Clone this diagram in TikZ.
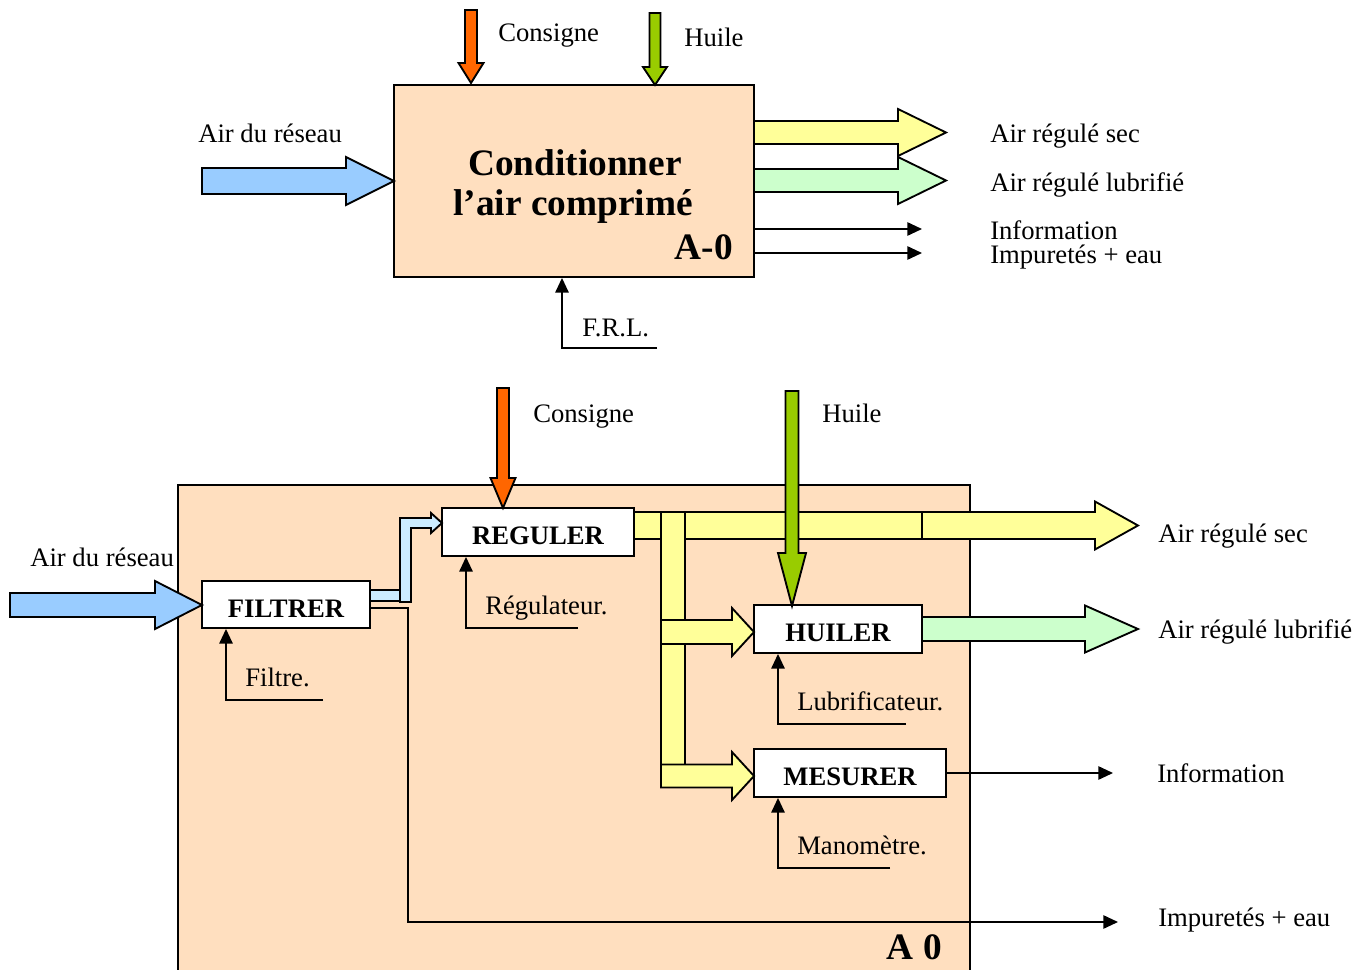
\documentclass[tikz,border=0pt]{standalone}
\usepackage{fontspec}
\setmainfont{Liberation Serif}
\usetikzlibrary{arrows.meta}
\definecolor{peach}{HTML}{FFDFBF}
\definecolor{cblue}{HTML}{99CCFF}
\definecolor{corange}{HTML}{FF6600}
\definecolor{cgreen}{HTML}{99CC00}
\definecolor{cyellow}{HTML}{FFFF99}
\definecolor{clgreen}{HTML}{CCFFCC}
\definecolor{clblue}{HTML}{CCECFF}
\newcommand{\blockR}[7]{%
  \filldraw[fill=#1, blk] (#2,{#5-#6}) -- (#3,{#5-#6}) -- (#3,{#5-#7}) -- (#4,#5) -- (#3,{#5+#7}) -- (#3,{#5+#6}) -- (#2,{#5+#6}) -- cycle;}
\newcommand{\blockD}[7]{%
  \filldraw[fill=#1, blk] ({#2-#6},#3) -- ({#2-#6},#4) -- ({#2-#7},#4) -- (#2,#5) -- ({#2+#7},#4) -- ({#2+#6},#4) -- ({#2+#6},#3) -- cycle;}
\tikzset{
  blk/.style={draw=black, line width=1.4pt, line join=miter},
  box/.style={draw=black, fill=white, line width=1.4pt, inner sep=0pt},
  boxtxt/.style={inner sep=0pt, yshift=-3pt, font=\fontsize{20}{24}\selectfont\bfseries},
  lbl/.style={anchor=base west, inner sep=0pt, font=\fontsize{20}{24}\selectfont},
  conn/.style={draw=black, line width=1.3pt, -{Triangle[length=11pt,width=10pt]}},
}
\begin{document}
\begin{tikzpicture}[x=0.75pt, y=-0.75pt]
\clip (0,0) rectangle (1367,970);
\fill[white] (0,0) rectangle (1367,970);

% ================= TOP (A-0) =================
\node[draw=black, fill=peach, line width=1.4pt, inner sep=0pt,
      minimum width=270pt, minimum height=144pt] (top) at (574,181) {};
\node[inner sep=0pt, font=\fontsize{28}{32}\selectfont\bfseries] (t1) at (575,163) {Conditionner};
\node[inner sep=0pt, font=\fontsize{28}{32}\selectfont\bfseries] (t2) at (573,207) {l’air comprimé};
\node[anchor=east, inner sep=0pt, font=\fontsize{28}{32}\selectfont\bfseries] (t3) at (733,247) {A-0};

\blockD{corange}{471}{10}{63}{83}{6}{12.5}
\blockD{cgreen}{655}{13}{67}{85}{5.5}{12}
\blockR{cblue}{202}{346}{394}{181}{13}{24}
\blockR{cyellow}{754}{898}{946}{132.5}{11.5}{23.5}
\blockR{clgreen}{754}{898}{946}{180.5}{11.5}{23.5}

\coordinate (infoT) at (922,229);
\coordinate (impT) at (922,253);
\draw[conn] (top.east |- infoT) -- (infoT);
\draw[conn] (top.east |- impT) -- (impT);

\coordinate (frlA) at (657,348);
\coordinate (frlB) at (562,348);
\draw[conn] (frlA) -- (frlB) -- (frlB |- top.south);

\node[lbl] (lc1) at (498,42) {Consigne};
\node[lbl] (lh1) at (684,47) {Huile};
\node[lbl] (la1) at (198,143) {Air du réseau};
\node[lbl] (ls1) at (990,143) {Air régulé sec};
\node[lbl] (ll1) at (990,191) {Air régulé lubrifié};
\node[lbl] (li1) at (990,239) {Information};
\node[lbl] (lm1) at (990,263) {Impuretés + eau};
\node[lbl] (lf1) at (582,336) {F.R.L.};

% ================= BOTTOM (A0) =================
\draw[fill=peach, line width=1.4pt] (178,485) rectangle (970,990);
\node[anchor=east, inner sep=0pt, font=\fontsize{28}{32}\selectfont\bfseries] (a0) at (942,947) {A 0};

\node[box, minimum width=144pt, minimum height=36pt] (reg) at (538,532) {};
\node[box, minimum width=126pt, minimum height=35.25pt] (fil) at (286,604.5) {};
\node[box, minimum width=126pt, minimum height=36pt] (hui) at (838,629) {};
\node[box, minimum width=144pt, minimum height=36pt] (mes) at (850,773) {};
\node[boxtxt] (regt) at (reg.center) {REGULER};
\node[boxtxt] (filt) at (fil.center) {FILTRER};
\node[boxtxt] (huit) at (hui.center) {HUILER};
\node[boxtxt] (mest) at (mes.center) {MESURER};

% yellow distribution
\filldraw[fill=cyellow, blk] (634,512) rectangle (922,539);
\filldraw[fill=cyellow, blk] (661,512) rectangle (685,772);
\blockR{cyellow}{661}{732}{754}{632}{12}{24}
\blockR{cyellow}{661}{732}{754}{776}{11.5}{24}
\blockR{cyellow}{922}{1095}{1138}{525.5}{13.5}{24}
\blockR{clgreen}{922}{1085}{1138}{629}{12}{23.5}

% light blue pipe FILTRER -> REGULER
\filldraw[fill=clblue, blk] (370,590) rectangle (400,601);
\filldraw[fill=clblue, blk] (400,602) -- (400,518) -- (431,518) -- (431,513) -- (442,523) -- (431,533) -- (431,528) -- (411,528) -- (411,602) -- cycle;

% inputs
\blockD{cgreen}{792}{391}{553}{606}{6.5}{14}
\blockD{corange}{503}{388}{478}{508}{6}{12.5}
\blockR{cblue}{10}{155}{202}{605}{12}{24}

% impurities and information
\coordinate (impB1) at (408,608);
\coordinate (impB2) at (1118,922);
\draw[conn] (fil.east |- impB1) -- (impB1) -- (impB1 |- impB2) -- (impB2);
\coordinate (infoB) at (1113,773);
\draw[conn] (mes.east |- infoB) -- (infoB);

% mechanisms
\coordinate (mf) at (323,700);  \coordinate (mf2) at (226,700);
\draw[conn] (mf) -- (mf2) -- (mf2 |- fil.south);
\coordinate (mr) at (578,628);  \coordinate (mr2) at (466,628);
\draw[conn] (mr) -- (mr2) -- (mr2 |- reg.south);
\coordinate (mh) at (906,724);  \coordinate (mh2) at (778,724);
\draw[conn] (mh) -- (mh2) -- (mh2 |- hui.south);
\coordinate (mm) at (890,868);  \coordinate (mm2) at (778,868);
\draw[conn] (mm) -- (mm2) -- (mm2 |- mes.south);

% labels
\node[lbl] (lc2) at (533,422) {Consigne};
\node[lbl] (lh2) at (822,422) {Huile};
\node[lbl] (la2) at (30,566) {Air du réseau};
\node[lbl] (ls2) at (1158,542) {Air régulé sec};
\node[lbl] (ll2) at (1158,638) {Air régulé lubrifié};
\node[lbl] (li2) at (1157,782) {Information};
\node[lbl] (lm2) at (1158,926) {Impuretés + eau};
\node[lbl] (lf2) at (245,686) {Filtre.};
\node[lbl] (lr2) at (485,614) {Régulateur.};
\node[lbl] (lu2) at (797,710) {Lubrificateur.};
\node[lbl] (lo2) at (797,854) {Manomètre.};
\end{tikzpicture}
\end{document}
